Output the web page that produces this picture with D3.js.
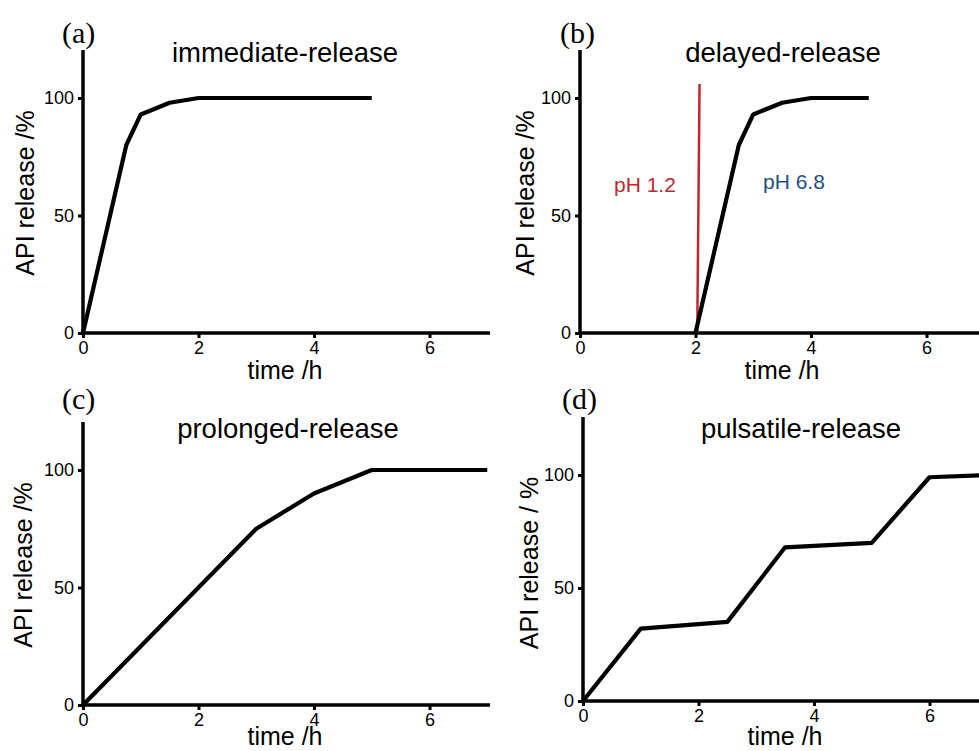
<!DOCTYPE html>
<html>
<head>
<meta charset="utf-8">
<script src="https://cdn.jsdelivr.net/npm/d3@7"></script>
<style>
  html, body { margin: 0; padding: 0; background: #fff; }
  svg { display: block; }
  text { font-family: "Liberation Sans", Arial, sans-serif; fill: #000; }
</style>
</head>
<body>
<svg id="chart" width="979" height="751"></svg>
<script>
// ---------- data ----------
const xTicks = [0, 2, 4, 6];
const yTicks = [0, 50, 100];

const timeA = [0, 0.75, 1, 1.5, 2, 5];
const relA  = [0, 80, 93, 98, 100, 100];

const timeB = [2, 2.75, 3, 3.5, 4, 5];
const relB  = [0, 80, 93, 98, 100, 100];
const phLineTime = [2.03, 2.07];
const phLineRel  = [0, 106];
const phLabels = ["pH 1.2", "pH 6.8"];

const timeC = [0, 3, 4, 5, 7];
const relC  = [0, 75, 90, 100, 100];

const timeD = [0, 1, 2.5, 3.5, 5, 6, 7];
const relD  = [0, 32, 35, 68, 70, 99, 100];

const panelLetters = ["(a)", "(b)", "(c)", "(d)"];
const panelTitles = ["immediate-release", "delayed-release", "prolonged-release", "pulsatile-release"];
const yTitles = ["API release /%", "API release /%", "API release /%", "API release / %"];
const xTitle = "time /h";

// ---------- layout ----------
const layout = [
  { x0: 83,  x2: 198.5, y0: 333, y100: 98,  yTop: 50,  right: 490,
    title: [285, 62], letter: [62, 43], ylab: [25, 193], xlab: [285, 379] },
  { x0: 580, x2: 695.5, y0: 333, y100: 98,  yTop: 50,  right: 979,
    title: [783, 62], letter: [560, 43], ylab: [525, 193], xlab: [782, 379] },
  { x0: 83,  x2: 198.5, y0: 705, y100: 470, yTop: 422, right: 490,
    title: [288, 438], letter: [62, 409], ylab: [23, 565], xlab: [285, 745] },
  { x0: 583, x2: 698.5, y0: 701, y100: 475, yTop: 417, right: 979,
    title: [801, 438], letter: [562, 409], ylab: [529, 563], xlab: [785, 745] }
];

const series = [
  { t: timeA, v: relA },
  { t: timeB, v: relB },
  { t: timeC, v: relC },
  { t: timeD, v: relD }
];

const svg = d3.select("#chart");

layout.forEach((L, i) => {
  const x = d3.scaleLinear().domain([0, 2]).range([L.x0, L.x2]);
  const y = d3.scaleLinear().domain([0, 100]).range([L.y0, L.y100]);
  const g = svg.append("g");

  // x axis ticks & labels
  const xa = g.append("g").attr("transform", `translate(0,${L.y0})`)
    .call(d3.axisBottom(x).tickValues(xTicks).tickSize(5).tickPadding(3).tickFormat(d3.format("d")));
  xa.select(".domain").remove();
  xa.selectAll(".tick line").attr("stroke", "#000").attr("stroke-width", 3);
  xa.selectAll(".tick text").attr("font-size", 18).attr("font-family", "Liberation Sans, Arial, sans-serif").attr("fill", "#000");

  // y axis ticks & labels
  const ya = g.append("g").attr("transform", `translate(${L.x0},0)`)
    .call(d3.axisLeft(y).tickValues(yTicks).tickSize(5).tickPadding(4).tickFormat(d3.format("d")));
  ya.select(".domain").remove();
  ya.selectAll(".tick line").attr("stroke", "#000").attr("stroke-width", 3);
  ya.selectAll(".tick text").attr("font-size", 18).attr("font-family", "Liberation Sans, Arial, sans-serif").attr("fill", "#000");

  // axis lines
  g.append("line").attr("x1", L.x0).attr("x2", L.right).attr("y1", L.y0).attr("y2", L.y0)
    .attr("stroke", "#000").attr("stroke-width", 3.5);
  g.append("line").attr("x1", L.x0).attr("x2", L.x0).attr("y1", L.y0 + 1.75).attr("y2", L.yTop)
    .attr("stroke", "#000").attr("stroke-width", 3.5);

  // pH marker line for (b)
  if (i === 1) {
    g.append("line")
      .attr("x1", x(phLineTime[0])).attr("y1", y(phLineRel[0]))
      .attr("x2", x(phLineTime[1])).attr("y2", y(phLineRel[1]))
      .attr("stroke", "#c1272d").attr("stroke-width", 2.5);
    g.append("text").attr("x", 614).attr("y", 192).attr("font-size", 21)
      .style("fill", "#c1272d").text(phLabels[0]);
    g.append("text").attr("x", 763).attr("y", 189).attr("font-size", 21)
      .style("fill", "#1f5080").text(phLabels[1]);
  }

  // release curve
  const S = series[i];
  const pts = S.t.map((t, k) => [t, S.v[k]]);
  g.append("path").datum(pts)
    .attr("d", d3.line().x(d => x(d[0])).y(d => y(d[1])))
    .attr("fill", "none").attr("stroke", "#000").attr("stroke-width", 4.2)
    .attr("stroke-linejoin", "round").attr("stroke-linecap", "butt");

  // texts
  g.append("text").attr("x", L.title[0]).attr("y", L.title[1]).attr("text-anchor", "middle")
    .attr("font-size", 27.5).text(panelTitles[i]);
  g.append("text").attr("x", L.letter[0]).attr("y", L.letter[1])
    .style("font-family", "'Liberation Serif', 'Times New Roman', serif")
    .attr("font-size", 30).text(panelLetters[i]);
  g.append("text").attr("transform", `translate(${L.ylab[0]},${L.ylab[1]}) rotate(-90)`)
    .attr("text-anchor", "middle").attr("dy", "0.35em").attr("font-size", 25).text(yTitles[i]);
  g.append("text").attr("x", L.xlab[0]).attr("y", L.xlab[1]).attr("text-anchor", "middle")
    .attr("font-size", 25).text(xTitle);
});
</script>
</body>
</html>
